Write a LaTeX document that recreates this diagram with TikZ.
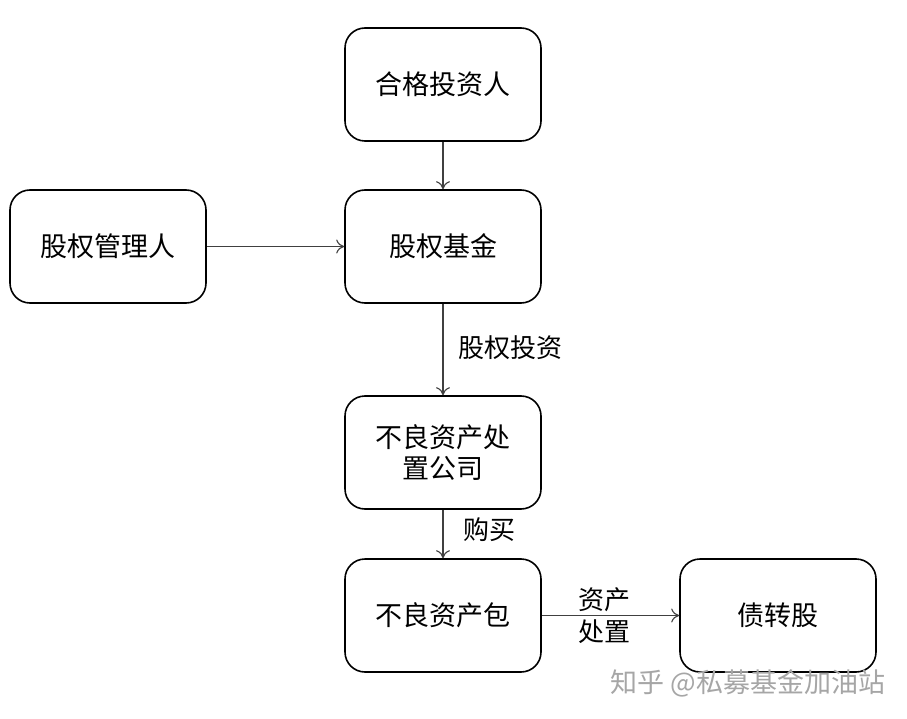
\documentclass[tikz,border=0pt]{standalone}
\usepackage{fontspec}
\newfontfamily\cjk{Noto Sans CJK SC}
\usetikzlibrary{arrows.meta}
\begin{document}
\begin{tikzpicture}[x=1pt,y=-1pt,
  box/.style={draw=black,line width=1.6pt,rounded corners=20pt,minimum width=196pt,minimum height=113pt,inner sep=0pt,align=center,font=\cjk\fontsize{27}{31}\selectfont},
  conn/.style={draw=black!75,line width=1.1pt,-{To[length=8pt,width=14pt,line width=1.1pt]}},
  lab/.style={font=\cjk\fontsize{26}{32}\selectfont,inner sep=0pt,align=center}]
\useasboundingbox (0,0) rectangle (907,719);
\fill[white] (0,0) rectangle (907,719);
\node[box] (inv) at (443,84.5) {合格投资人};
\node[box] (mgr) at (108,246.5) {股权管理人};
\node[box] (fund) at (443,246.5) {股权基金};
\node[box] (amc) at (443,452.5) {不良资产处\\置公司};
\node[box] (pkg) at (443,615.5) {不良资产包};
\node[box] (dte) at (778,615.5) {债转股};
\draw[conn] (inv) -- (fund);
\draw[conn] (mgr) -- (fund);
\draw[conn] (fund) -- (amc);
\draw[conn] (amc) -- (pkg);
\draw[conn] (pkg) -- (dte);
\node[lab] (l1) at (510,348) {股权投资};
\node[lab] (l2) at (489,530) {购买};
\node[lab] (l3) at (604,616) {资产\\处置};
\node[font=\cjk\fontsize{27}{30}\selectfont,text=black!35,inner sep=0pt] (wm) at (748,683) {知乎 @私募基金加油站};
\end{tikzpicture}
\end{document}
